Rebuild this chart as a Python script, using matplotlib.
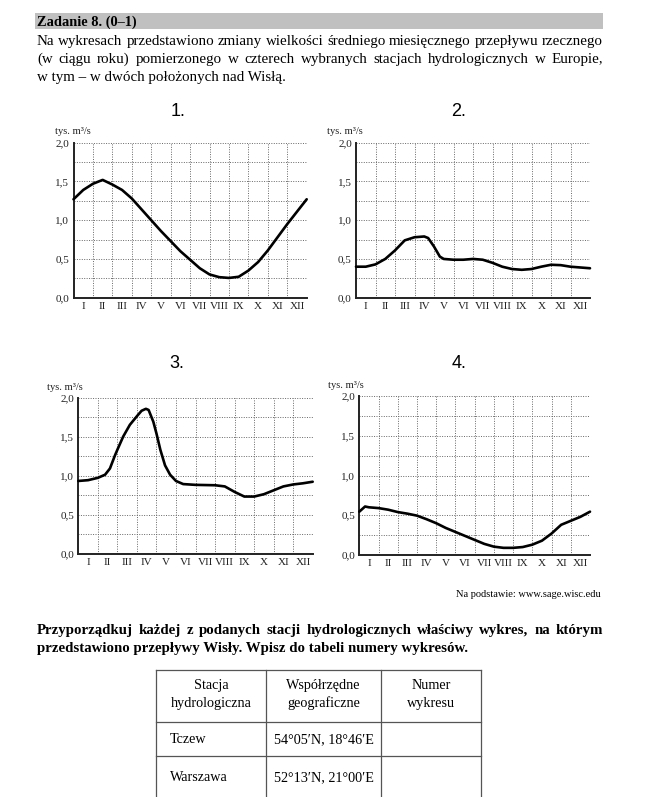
import matplotlib
matplotlib.use("Agg")
import matplotlib.pyplot as plt
from matplotlib.patches import Rectangle

W, H = 664, 797

months = ['I', 'II', 'III', 'IV', 'V', 'VI', 'VII', 'VIII', 'IX', 'X', 'XI', 'XII']
yticks = [0.0, 0.5, 1.0, 1.5, 2.0]
ytick_labels = ['0,0', '0,5', '1,0', '1,5', '2,0']
unit = 'tys. m³/s'

# flow values, x in months from start of January
x1 = [0, 0.5, 1, 1.5, 2, 2.5, 3, 3.5, 4, 4.5, 5, 5.5, 6, 6.5, 7, 7.5, 8, 8.5, 9, 9.5, 10, 10.5, 11, 11.5, 12]
y1 = [1.27, 1.39, 1.47, 1.52, 1.46, 1.39, 1.28, 1.14, 1.0, 0.86, 0.73, 0.60, 0.49, 0.38, 0.30, 0.265, 0.255, 0.27,
      0.35, 0.46, 0.61, 0.78, 0.95, 1.11, 1.27]

x2 = [0, 0.5, 1, 1.5, 2, 2.5, 3, 3.5, 3.7, 4, 4.3, 4.5, 5, 5.5, 6, 6.5, 7, 7.5, 8, 8.5, 9, 9.5, 10, 10.5, 11, 11.5, 12]
y2 = [0.40, 0.40, 0.43, 0.50, 0.61, 0.74, 0.78, 0.79, 0.77, 0.66, 0.53, 0.50, 0.49, 0.49, 0.50, 0.49, 0.45, 0.40,
      0.37, 0.36, 0.37, 0.40, 0.425, 0.42, 0.40, 0.39, 0.38]

x3 = [0, 0.5, 1, 1.37, 1.62, 1.88, 2.0, 2.3, 2.64, 3.0, 3.24, 3.46, 3.6, 3.84, 4.0, 4.2, 4.44, 4.7, 5.0, 5.37, 6,
      7, 7.5, 8, 8.5, 9, 9.5, 10, 10.5, 11, 11.5, 12]
y3 = [0.93, 0.94, 0.97, 1.01, 1.09, 1.26, 1.33, 1.50, 1.65, 1.76, 1.83, 1.855, 1.84, 1.69, 1.54, 1.33, 1.13, 1.01,
      0.93, 0.89, 0.88, 0.875, 0.86, 0.79, 0.73, 0.73, 0.76, 0.81, 0.86, 0.885, 0.90, 0.92]

x4 = [0, 0.3, 0.5, 1, 1.5, 2, 2.5, 3, 3.5, 4, 4.5, 5, 5.5, 6, 6.5, 7, 7.5, 8, 8.5, 9, 9.5, 10, 10.5, 11, 11.5, 12]
y4 = [0.545, 0.61, 0.60, 0.59, 0.57, 0.54, 0.52, 0.495, 0.45, 0.40, 0.34, 0.29, 0.24, 0.19, 0.14, 0.105, 0.09, 0.09,
      0.10, 0.13, 0.18, 0.27, 0.38, 0.43, 0.48, 0.545]

# (left, right, top, bottom) in pixels, title pos, unit label pos
charts = [
    ('1.', x1, y1, (73.5, 306.7, 142.7, 297.7), (178, 112), (55, 131)),
    ('2.', x2, y2, (356, 590, 142.7, 297.7), (459, 112), (327, 131)),
    ('3.', x3, y3, (78.3, 312.7, 397.5, 553.5), (177, 364), (47, 388)),
    ('4.', x4, y4, (359.3, 590, 396, 555), (459, 364), (328, 385)),
]

serif = 'Liberation Serif'

fig = plt.figure(figsize=(W / 100, H / 100), dpi=100)
renderer = fig.canvas.get_renderer()


def fx(px):
    return px / W


def fy(py):
    return 1 - py / H


def line(x, y, s, **kw):
    # y is the baseline in pixels
    return fig.text(fx(x), fy(y), s, va='baseline', **kw)


def justify(text, x0, x1, y, **kw):
    words = text.split()
    arts = [line(x0, y, w, ha='left', **kw) for w in words]
    widths = [a.get_window_extent(renderer).width for a in arts]
    gap = (x1 - x0 - sum(widths)) / (len(words) - 1)
    pos = x0
    for a, w in zip(arts, widths):
        a.set_x(fx(pos))
        pos += w + gap


for title, xs, ys, (l, r, t, b), tpos, upos in charts:
    ax = fig.add_axes([fx(l), fy(b), (r - l) / W, (b - t) / H])
    ax.set_xlim(0, 12)
    ax.set_ylim(0, 2)
    for i in range(1, 13):
        ax.axvline(i, color='#666666', lw=0.7, ls=(0, (1, 1.5)), zorder=1)
    for v in [0.25, 0.5, 0.75, 1.0, 1.25, 1.5, 1.75, 2.0]:
        ax.axhline(v, color='#666666', lw=0.7, ls=(0, (1, 1.5)), zorder=1)
    ax.plot(xs, ys, color='black', lw=1.9, solid_joinstyle='round', solid_capstyle='round', zorder=3,
            clip_on=False)
    for s in ['top', 'right']:
        ax.spines[s].set_visible(False)
    for s in ['left', 'bottom']:
        ax.spines[s].set_linewidth(1.4)
        ax.spines[s].set_color('#222222')
    ax.set_xticks([i + 0.5 for i in range(12)])
    ax.set_xticklabels(months, family=serif, fontsize=8)
    ax.set_yticks(yticks)
    ax.set_yticklabels(ytick_labels, family=serif, fontsize=8)
    ax.tick_params(length=0, pad=3, colors='#222222')
    fig.text(fx(tpos[0]), fy(tpos[1]), title, family='Liberation Sans', fontsize=13, ha='center', va='center')
    fig.text(fx(upos[0]), fy(upos[1]), unit, family=serif, fontsize=7.6, ha='left', va='center', color='#222222')

# header
fig.patches.append(Rectangle((fx(35), fy(29)), (603 - 35) / W, 16 / H, transform=fig.transFigure,
                             facecolor='#c0c0c0', edgecolor='none'))
line(37, 25.5, 'Zadanie 8. (0–1)', family=serif, fontsize=10.4, weight='bold')

body = [
    'Na wykresach przedstawiono zmiany wielkości średniego miesięcznego przepływu rzecznego',
    '(w ciągu roku) pomierzonego w czterech wybranych stacjach hydrologicznych w Europie,',
]
justify(body[0], 37, 603, 45, family=serif, fontsize=10.8)
justify(body[1], 37, 603, 63, family=serif, fontsize=10.8)
line(37, 81, 'w tym – w dwóch położonych nad Wisłą.', family=serif, fontsize=10.8)

line(601, 597, 'Na podstawie: www.sage.wisc.edu', family=serif, fontsize=7.5, ha='right')

justify('Przyporządkuj każdej z podanych stacji hydrologicznych właściwy wykres, na którym', 37, 603, 634,
        family=serif, fontsize=10.7, weight='bold')
line(37, 652, 'przedstawiono przepływy Wisły. Wpisz do tabeli numery wykresów.', family=serif,
     fontsize=10.7, weight='bold')

# table
col_x = [156, 266, 381, 481]
row_y = [670, 722, 756, 800]
header = [('Stacja', 'hydrologiczna'), ('Współrzędne', 'geograficzne'), ('Numer', 'wykresu')]
stations = ['Tczew', 'Warszawa']
coords = ['54°05′N, 18°46′E', '52°13′N, 21°00′E']

for cx in col_x:
    fig.add_artist(plt.Line2D([fx(cx), fx(cx)], [fy(row_y[0]), fy(row_y[-1])], color='#555555', lw=0.9))
for ry in row_y[:-1]:
    fig.add_artist(plt.Line2D([fx(col_x[0]), fx(col_x[-1])], [fy(ry), fy(ry)], color='#555555', lw=0.9))
for i, (a, b) in enumerate(header):
    cx = (col_x[i] + col_x[i + 1]) / 2
    line(cx, 689, a, family=serif, fontsize=10.2, ha='center')
    line(cx, 707, b, family=serif, fontsize=10.2, ha='center')
for j, (st, co) in enumerate(zip(stations, coords)):
    yy = [743, 781][j]
    line(170, yy, st, family=serif, fontsize=10.2, ha='left')
    line((col_x[1] + col_x[2]) / 2, yy, co, family=serif, fontsize=10.2, ha='center')

fig.savefig('out.png', dpi=100)
